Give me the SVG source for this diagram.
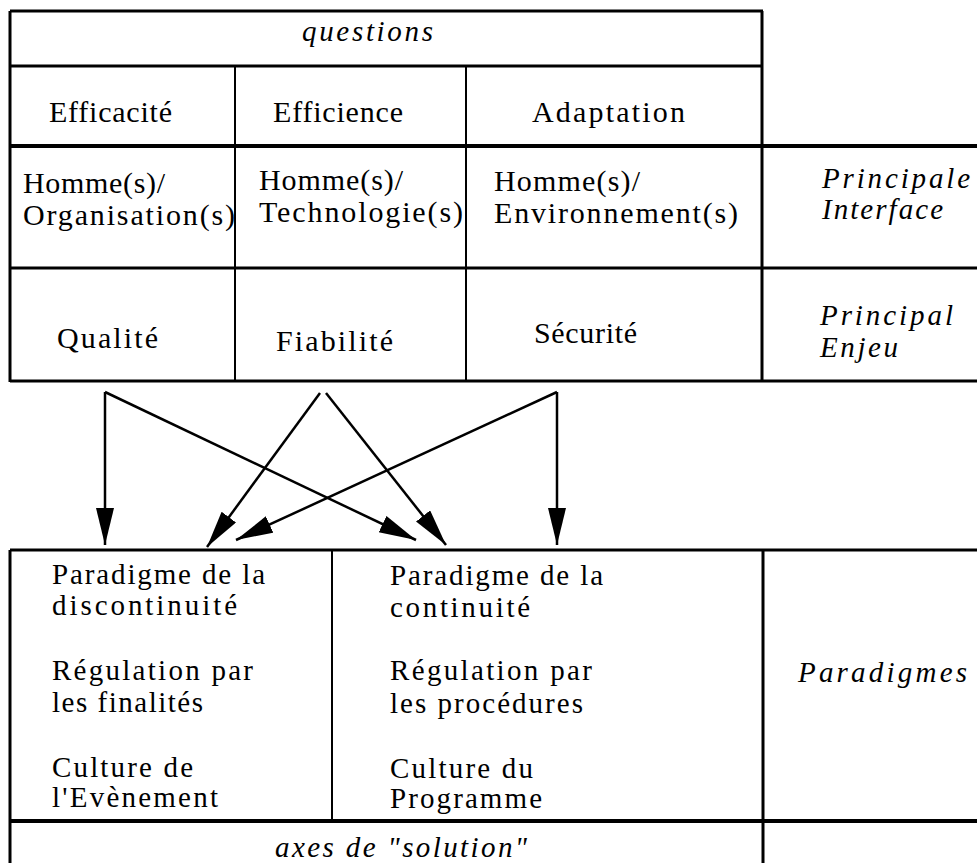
<svg xmlns="http://www.w3.org/2000/svg" width="977" height="863" viewBox="0 0 977 863">
<style>
  .bg { fill: #ffffff; }
  .ln { stroke: #000; stroke-width: 2; fill: none; }
  .lo { stroke: #000; stroke-width: 3; fill: none; }
  .lt { stroke: #000; stroke-width: 4; fill: none; }
  .arr { stroke: #000; stroke-width: 2.5; fill: none; marker-end: url(#ah); }
  .t { font-size: 30px; }
  .b { font-size: 29px; }
  .i { font-size: 29px; font-style: italic; }
</style>
<defs>
  <marker id="ah" markerUnits="userSpaceOnUse" markerWidth="38" markerHeight="20" refX="37" refY="9" orient="auto">
    <path d="M0,0 L37,9 L0,18 z" fill="#000"/>
  </marker>
</defs>
<rect class="bg" x="0" y="0" width="977" height="863"/>

<g id="top-table">
  <line class="lo" x1="10" y1="11" x2="763" y2="11"/>
  <line class="lo" x1="10" y1="11" x2="10" y2="382"/>
  <line class="lo" x1="762" y1="11" x2="762" y2="382"/>
  <line class="lo" x1="10" y1="66" x2="762" y2="66"/>
  <line class="lt" x1="10" y1="146" x2="977" y2="146"/>
  <line class="lo" x1="10" y1="268" x2="977" y2="268"/>
  <line class="lo" x1="10" y1="381" x2="977" y2="381"/>
  <line class="ln" x1="235" y1="66" x2="235" y2="381"/>
  <line class="ln" x1="466" y1="66" x2="466" y2="381"/>
</g>

<g font-family="'Liberation Serif', 'DejaVu Serif', serif" fill="#000">
<g id="questions"><text class="i" x="302" y="41" textLength="131" lengthAdjust="spacing">questions</text></g>
<g id="efficacite"><text class="t" x="49" y="122" textLength="123" lengthAdjust="spacing">Efficacité</text></g>
<g id="efficience"><text class="t" x="273" y="122" textLength="130" lengthAdjust="spacing">Efficience</text></g>
<g id="adaptation"><text class="t" x="532" y="122" textLength="153" lengthAdjust="spacing">Adaptation</text></g>

<g id="homme-organisation">
  <text class="t" x="23" y="193" textLength="142" lengthAdjust="spacing">Homme(s)/</text>
  <text class="t" x="23" y="225" textLength="212" lengthAdjust="spacing">Organisation(s)</text>
</g>
<g id="homme-technologie">
  <text class="t" x="259" y="190" textLength="144" lengthAdjust="spacing">Homme(s)/</text>
  <text class="t" x="259" y="222" textLength="204" lengthAdjust="spacing">Technologie(s)</text>
</g>
<g id="homme-environnement">
  <text class="t" x="494" y="191" textLength="146" lengthAdjust="spacing">Homme(s)/</text>
  <text class="t" x="494" y="223" textLength="244" lengthAdjust="spacing">Environnement(s)</text>
</g>
<g id="principale-interface">
  <text class="i" x="822" y="188" textLength="148" lengthAdjust="spacing">Principale</text>
  <text class="i" x="822" y="219" textLength="121" lengthAdjust="spacing">Interface</text>
</g>

<g id="qualite"><text class="t" x="57" y="348" textLength="101" lengthAdjust="spacing">Qualité</text></g>
<g id="fiabilite"><text class="t" x="276" y="351" textLength="117" lengthAdjust="spacing">Fiabilité</text></g>
<g id="securite"><text class="t" x="534" y="343" textLength="103" lengthAdjust="spacing">Sécurité</text></g>
<g id="principal-enjeu">
  <text class="i" x="820" y="325" textLength="133" lengthAdjust="spacing">Principal</text>
  <text class="i" x="820" y="357" textLength="78" lengthAdjust="spacing">Enjeu</text>
</g>

<g id="discontinuite">
  <text class="b" x="52" y="584" textLength="213" lengthAdjust="spacing">Paradigme de la</text>
  <text class="b" x="52" y="615" textLength="185" lengthAdjust="spacing">discontinuité</text>
  <text class="b" x="52" y="680" textLength="201" lengthAdjust="spacing">Régulation par</text>
  <text class="b" x="52" y="712" textLength="151" lengthAdjust="spacing">les finalités</text>
  <text class="b" x="52" y="777" textLength="141" lengthAdjust="spacing">Culture de</text>
  <text class="b" x="52" y="807" textLength="166" lengthAdjust="spacing">l'Evènement</text>
</g>
<g id="continuite">
  <text class="b" x="390" y="585" textLength="213" lengthAdjust="spacing">Paradigme de la</text>
  <text class="b" x="390" y="617" textLength="140" lengthAdjust="spacing">continuité</text>
  <text class="b" x="390" y="680" textLength="202" lengthAdjust="spacing">Régulation par</text>
  <text class="b" x="390" y="713" textLength="193" lengthAdjust="spacing">les procédures</text>
  <text class="b" x="390" y="778" textLength="143" lengthAdjust="spacing">Culture du</text>
  <text class="b" x="390" y="808" textLength="152" lengthAdjust="spacing">Programme</text>
</g>
<g id="paradigmes"><text class="i" x="798" y="682" textLength="169" lengthAdjust="spacing">Paradigmes</text></g>
<g id="axes-solution"><text class="i" x="275" y="857" textLength="252" lengthAdjust="spacing">axes de "solution"</text></g>
</g>

<g id="connectors">
  <path class="arr" d="M105,392 L105,545"/>
  <path class="arr" d="M105,392 L416,540"/>
  <path class="arr" d="M320,393 L207,547"/>
  <path class="arr" d="M326,393 L446,545"/>
  <path class="arr" d="M557,392 L236,540"/>
  <path class="arr" d="M557,392 L557,545"/>
</g>

<g id="bottom-table">
  <line class="lo" x1="10" y1="550" x2="977" y2="550"/>
  <line class="lo" x1="10" y1="550" x2="10" y2="863"/>
  <line class="ln" x1="332" y1="550" x2="332" y2="821"/>
  <line class="lo" x1="763" y1="550" x2="763" y2="863"/>
  <line class="lt" x1="10" y1="821" x2="977" y2="821"/>
</g>
</svg>
